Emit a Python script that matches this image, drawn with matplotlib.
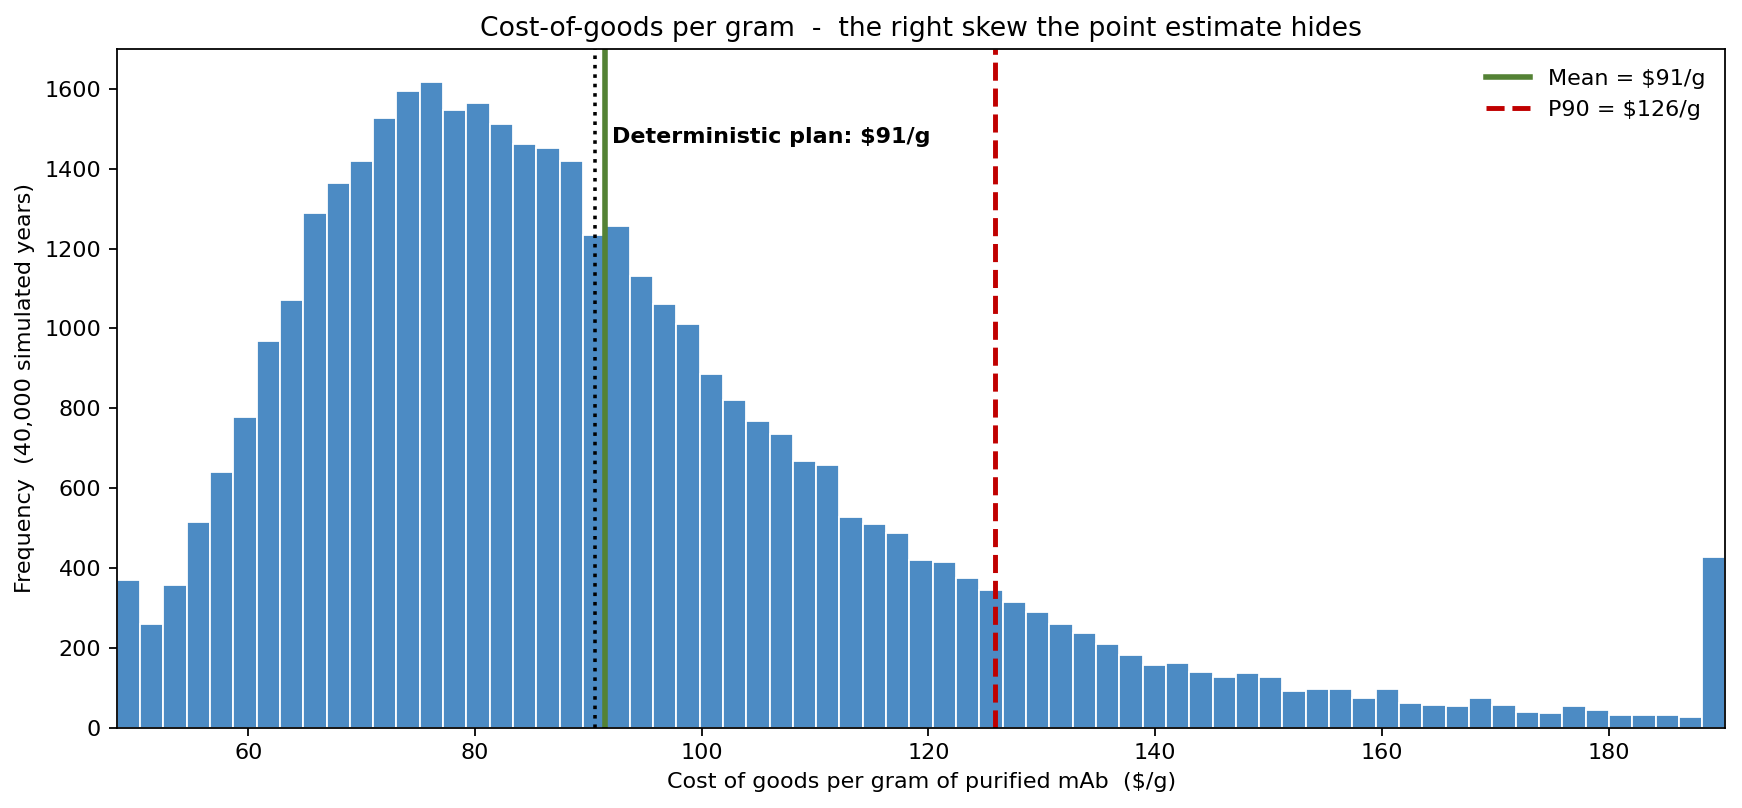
#!/usr/bin/env python3
"""Cost-of-goods per gram histogram with mean / P90 / deterministic markers."""
import matplotlib
matplotlib.use("Agg")
import matplotlib.pyplot as plt
import numpy as np

# histogram: 69 equal bins, last bin collects the overflow
bin_lo, bin_hi = 48.4, 190.3
counts = [
    369, 260, 357, 515, 640, 779, 969, 1072, 1290, 1365,
    1418, 1528, 1595, 1618, 1547, 1565, 1512, 1462, 1451, 1418,
    1234, 1256, 1132, 1062, 1010, 885, 822, 768, 735, 667,
    659, 527, 511, 487, 421, 414, 374, 344, 314, 291,
    261, 238, 211, 183, 156, 161, 140, 127, 137, 127,
    92, 97, 97, 75, 97, 62, 57, 55, 75, 57,
    39, 37, 55, 44, 32, 32, 32, 27, 428,
]
mean_cost = 91.45
p90_cost = 125.9
deterministic_cost = 90.6

BAR = "#4C8BC4"
GREEN = "#548235"
RED = "#C00000"
DPI = 160


def main() -> None:
    edges = np.linspace(bin_lo, bin_hi, len(counts) + 1)
    centers = 0.5 * (edges[:-1] + edges[1:])

    fig, ax = plt.subplots(figsize=(1742 / DPI, 808 / DPI), dpi=DPI)
    fig.subplots_adjust(left=0.067, right=0.9905, top=0.9395, bottom=0.0993)

    ax.hist(centers, bins=edges, weights=counts, color=BAR, edgecolor="white", linewidth=0.8)

    ax.axvline(mean_cost, color=GREEN, linewidth=2.5, label=f"Mean = ${mean_cost:.0f}/g")
    ax.axvline(p90_cost, color=RED, linestyle="--", linewidth=2.2, label=f"P90 = ${p90_cost:.0f}/g")
    ax.axvline(deterministic_cost, color="black", linestyle=":", linewidth=1.6)
    ax.text(deterministic_cost + 1.5, 1480, f"Deterministic plan: ${deterministic_cost:.0f}/g",
            fontsize=10, fontweight="bold", va="center", ha="left")

    ax.set_xlim(bin_lo, bin_hi)
    ax.set_ylim(0, 1700)
    ax.set_xlabel("Cost of goods per gram of purified mAb  ($/g)")
    ax.set_ylabel("Frequency  (40,000 simulated years)")
    ax.set_title("Cost-of-goods per gram  -  the right skew the point estimate hides", fontsize=12)
    ax.legend(loc="upper right", frameon=False, fontsize=10)

    fig.savefig("out.png", dpi=DPI)
    plt.close(fig)


if __name__ == "__main__":
    main()
